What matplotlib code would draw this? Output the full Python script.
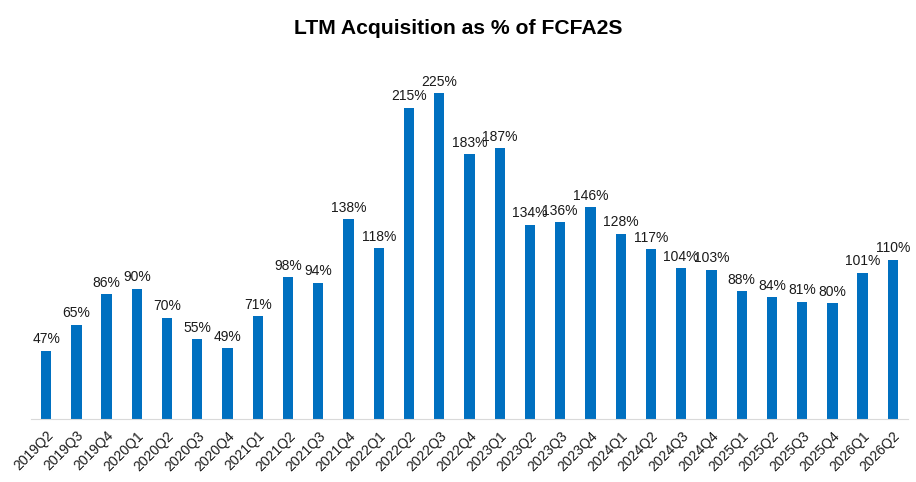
import matplotlib
matplotlib.use("Agg")
import matplotlib.pyplot as plt

quarters = ["2019Q2","2019Q3","2019Q4","2020Q1","2020Q2","2020Q3","2020Q4","2021Q1","2021Q2","2021Q3",
            "2021Q4","2022Q1","2022Q2","2022Q3","2022Q4","2023Q1","2023Q2","2023Q3","2023Q4","2024Q1",
            "2024Q2","2024Q3","2024Q4","2025Q1","2025Q2","2025Q3","2025Q4","2026Q1","2026Q2"]
values = [47, 65, 86, 90, 70, 55, 49, 71, 98, 94,
          138, 118, 215, 225, 183, 187, 134, 136, 146, 128,
          117, 104, 103, 88, 84, 81, 80, 101, 110]

plt.rcParams['font.family'] = ['Liberation Sans', 'DejaVu Sans']

fig = plt.figure(figsize=(9.16, 4.82), dpi=100)
ax = fig.add_axes([31/916, 0.131, 877/916, 0.751])
x = list(range(len(values)))
ax.bar(x, values, width=0.34, color='#0070C0')
for xi, v in zip(x, values):
    ax.text(xi, v + 3, f"{v}%", ha='center', va='bottom', fontsize=10, color='#1a1a1a')
ax.set_xlim(-0.5, len(values) - 0.5)
ax.set_ylim(0, 250)
ax.set_yticks([])
ax.set_xticks(x)
ax.set_xticklabels(quarters, rotation=45, ha='right', rotation_mode='anchor', fontsize=10, color='#1a1a1a')
ax.tick_params(axis='x', length=0, pad=7)
for s in ['top', 'right', 'left']:
    ax.spines[s].set_visible(False)
ax.spines['bottom'].set_color('#D9D9D9')
fig.suptitle("LTM Acquisition as % of FCFA2S", fontsize=15.2, fontweight='bold', y=0.96)
fig.savefig("out.png", dpi=100)
